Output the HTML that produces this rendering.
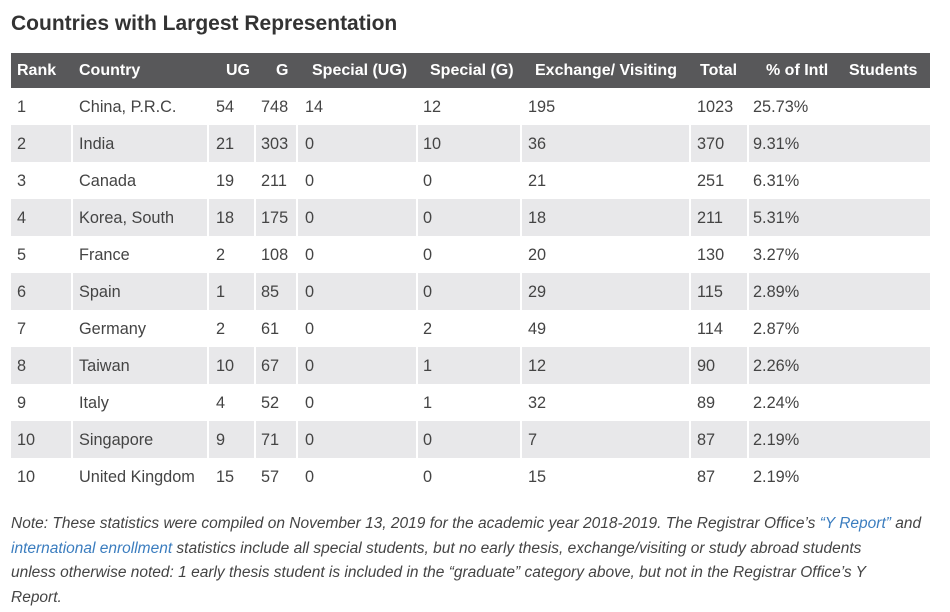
<!DOCTYPE html>
<html><head><meta charset="utf-8"><style>
body{margin:0;background:#fff;width:950px;height:612px;overflow:hidden;font-family:"Liberation Sans",Arial,sans-serif;position:relative}
.t{position:absolute;left:11px;top:12px;font-size:21px;font-weight:bold;color:#333}
.hd{position:absolute;left:11px;top:53px;width:919px;height:35px;background:#58585a}
.h{position:absolute;top:62px;color:#fff;font-weight:bold;font-size:16px;white-space:nowrap}
.r{position:absolute;left:11px;width:919px;height:37px}
.g{background:#e8e8ea}
.v{position:absolute;top:0;width:2px;height:37px;background:#fff}
.c{position:absolute;font-size:16.3px;color:#444;white-space:nowrap}
.n{position:absolute;left:11px;top:512px;width:930px;font-size:15.5px;font-style:italic;color:#444;line-height:24.5px;white-space:nowrap}
.n a{color:#3b7dbf;text-decoration:none}
</style></head><body>
<div class="t">Countries with Largest Representation</div>
<div class="hd"></div>
<div class="h" style="left:17px">Rank</div>
<div class="h" style="left:79px">Country</div>
<div class="h" style="left:226px">UG</div>
<div class="h" style="left:276px">G</div>
<div class="h" style="left:312px">Special (UG)</div>
<div class="h" style="left:430px">Special (G)</div>
<div class="h" style="left:535px">Exchange/ Visiting</div>
<div class="h" style="left:700px">Total</div>
<div class="h" style="left:766px">% of Intl</div>
<div class="h" style="left:849px">Students</div>
<div id="rows"></div>
<script>
var d=[["1","China, P.R.C.","54","748","14","12","195","1023","25.73%"],["2","India","21","303","0","10","36","370","9.31%"],["3","Canada","19","211","0","0","21","251","6.31%"],["4","Korea, South","18","175","0","0","18","211","5.31%"],["5","France","2","108","0","0","20","130","3.27%"],["6","Spain","1","85","0","0","29","115","2.89%"],["7","Germany","2","61","0","2","49","114","2.87%"],["8","Taiwan","10","67","0","1","12","90","2.26%"],["9","Italy","4","52","0","1","32","89","2.24%"],["10","Singapore","9","71","0","0","7","87","2.19%"],["10","United Kingdom","15","57","0","0","15","87","2.19%"]];
var xs=[17,79,216,261,305,423,528,697,753];var bs=[72,208,255,297,417,521,690,748];
var h="";
d.forEach(function(r,i){var top=88+i*37;h+='<div class="r'+(i%2?' g':'')+'" style="top:'+top+'px">';bs.forEach(function(b){h+='<div class="v" style="left:'+(b-12)+'px"></div>'});h+='</div>';r.forEach(function(t,j){h+='<div class="c" style="left:'+xs[j]+'px;top:'+(top+10)+'px">'+t+'</div>'})});
document.getElementById('rows').innerHTML=h;
</script>
<div class="n">Note: These statistics were compiled on November 13, 2019 for the academic year 2018-2019. The Registrar Office’s <a>“Y Report”</a> and<br><a>international enrollment</a> statistics include all special students, but no early thesis, exchange/visiting or study abroad students<br>unless otherwise noted: 1 early thesis student is included in the “graduate” category above, but not in the Registrar Office’s Y<br>Report.</div>
</body></html>
